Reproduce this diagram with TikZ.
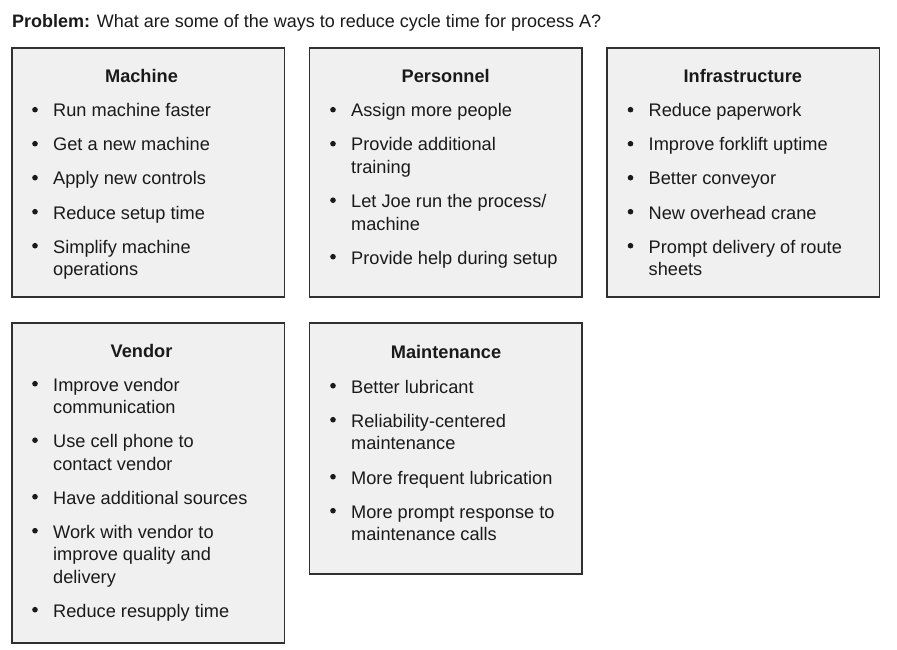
\documentclass[tikz,border=0pt]{standalone}
\usepackage{fontspec}
\setmainfont{Liberation Sans}
\definecolor{boxfill}{HTML}{F0F0F0}
\definecolor{boxline}{HTML}{303030}
\definecolor{ink}{HTML}{1A1A1A}
\newcommand\bitem[4]{%
  \node[bul] (#1b) at ({#2-18},{#3-7.3}) {};
  \node[txt] (#1) at (#2,#3) {#4};}
\begin{document}
\begin{tikzpicture}[x=1pt,y=-1pt,
  box/.style={draw=boxline, fill=boxfill, line width=1.8pt, inner sep=0pt},
  txt/.style={anchor=base west, inner sep=0pt, text=ink, font=\fontsize{18.2}{22}\selectfont},
  ttl/.style={anchor=base, inner sep=0pt, text=ink, font=\fontsize{18.2}{22}\selectfont\bfseries},
  bul/.style={circle, fill=ink, inner sep=0pt, minimum size=5.6pt}]
\useasboundingbox[fill=white] (0,0) rectangle (897,650);

\node[txt, font=\fontsize{18}{22}\selectfont] (prob) at (12,28) {\textbf{Problem:} What are some of the ways to reduce cycle time for process A?};

% boxes
\node[box, minimum width=272.5pt, minimum height=248.7pt] (machine) at (148.2,172.65) {};
\node[box, minimum width=272.5pt, minimum height=248.7pt] (personnel) at (445.7,172.65) {};
\node[box, minimum width=272.5pt, minimum height=248.7pt] (infra) at (743.3,172.65) {};
\node[box, minimum width=272.5pt, minimum height=320pt] (vendor) at (148.2,482.7) {};
\node[box, minimum width=272.5pt, minimum height=251.6pt] (maint) at (445.7,448.5) {};

% Machine
\node[ttl] (mt) at (141.5,83) {Machine};
\bitem{m1}{53}{117}{Run machine faster}
\bitem{m2}{53}{151}{Get a new machine}
\bitem{m3}{53}{185}{Apply new controls}
\bitem{m4}{53}{219}{Reduce setup time}
\bitem{m5}{53}{253}{Simplify machine}
\node[txt] (m5c) at (53,275.5) {operations};

% Personnel
\node[ttl] (pt) at (445.7,83) {Personnel};
\bitem{p1}{351}{117}{Assign more people}
\bitem{p2}{351}{151}{Provide additional}
\node[txt] (p2c) at (351,173.5) {training};
\bitem{p3}{351}{207.5}{Let Joe run the process/}
\node[txt] (p3c) at (351,230) {machine};
\bitem{p4}{351}{264}{Provide help during setup}

% Infrastructure
\node[ttl] (it) at (742.8,83) {Infrastructure};
\bitem{i1}{648.5}{117}{Reduce paperwork}
\bitem{i2}{648.5}{151}{Improve forklift uptime}
\bitem{i3}{648.5}{185}{Better conveyor}
\bitem{i4}{648.5}{219}{New overhead crane}
\bitem{i5}{648.5}{253}{Prompt delivery of route}
\node[txt] (i5c) at (648.5,275.5) {sheets};

% Vendor
\node[ttl] (vt) at (141.5,357) {Vendor};
\bitem{v1}{53}{391}{Improve vendor}
\node[txt] (v1c) at (53,413.5) {communication};
\bitem{v2}{53}{447.5}{Use cell phone to}
\node[txt] (v2c) at (53,470) {contact vendor};
\bitem{v3}{53}{504}{Have additional sources}
\bitem{v4}{53}{538}{Work with vendor to}
\node[txt] (v4c) at (53,560.5) {improve quality and};
\node[txt] (v4d) at (53,583) {delivery};
\bitem{v5}{53}{617}{Reduce resupply time}

% Maintenance
\node[ttl] (at) at (446,358.5) {Maintenance};
\bitem{a1}{351}{393}{Better lubricant}
\bitem{a2}{351}{427}{Reliability-centered}
\node[txt] (a2c) at (351,449.5) {maintenance};
\bitem{a3}{351}{484}{More frequent lubrication}
\bitem{a4}{351}{518}{More prompt response to}
\node[txt] (a4c) at (351,540) {maintenance calls};
\end{tikzpicture}
\end{document}
